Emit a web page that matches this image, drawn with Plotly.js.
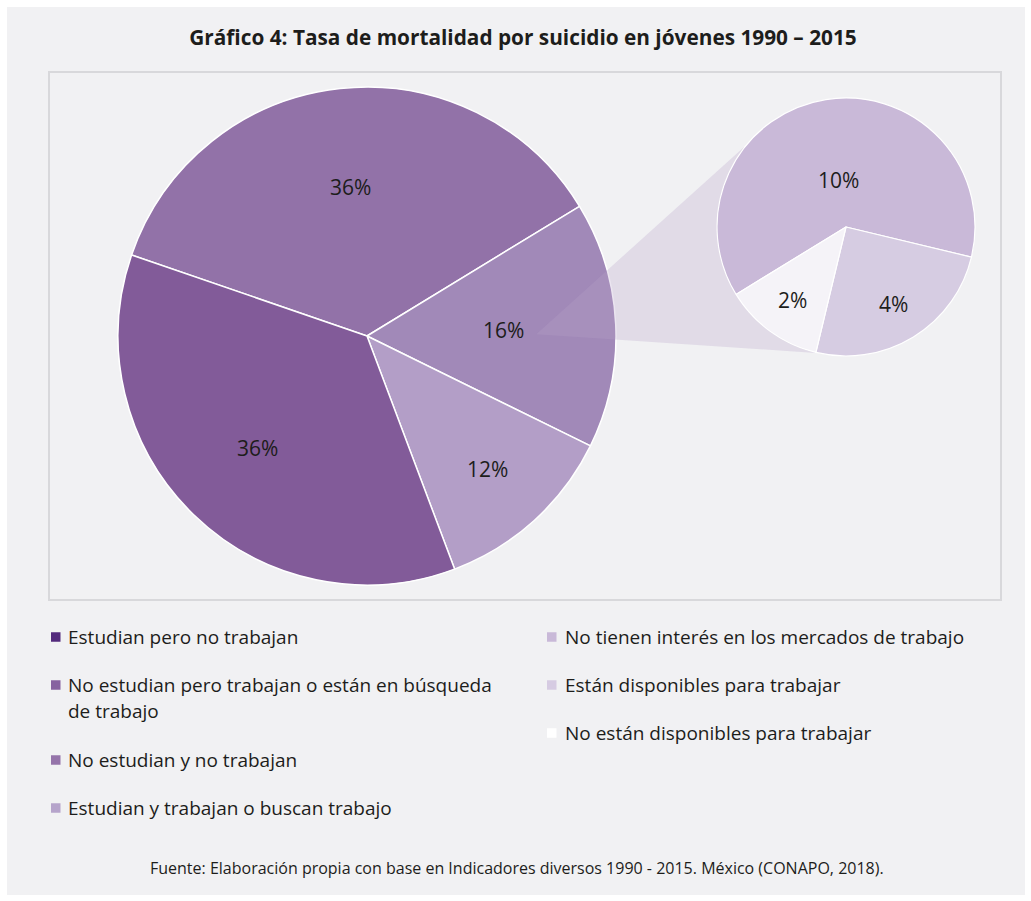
<!DOCTYPE html>
<html>
<head>
<meta charset="utf-8">
<script src="https://cdn.plot.ly/plotly-3.0.1.min.js"></script>
<style>html,body{margin:0;padding:0;background:#ffffff;}</style>
</head>
<body>
<div id="chart" style="width:1031px;height:901px;"></div>
<script>
// ---------- data ----------
const titleText = 'Gráfico 4: Tasa de mortalidad por suicidio en jóvenes 1990 – 2015';
const sourceText = 'Fuente: Elaboración propia con base en Indicadores diversos 1990 - 2015. México (CONAPO, 2018).';

const mainLabels = ['Estudian pero no trabajan', 'No estudian y no trabajan', 'Estudian y trabajan o buscan trabajo', 'No estudian pero trabajan o están en búsqueda de trabajo'];
const mainValues = [36, 16, 12, 36];
const mainColors = ['#9272a8', '#a189b8', '#b39ec7', '#825b99'];

const subLabels = ['No tienen interés en los mercados de trabajo', 'Están disponibles para trabajar', 'No están disponibles para trabajar'];
const subValues = [10, 4, 2];
const subColors = ['#c9b9d8', '#d6cce2', '#f5f3f8'];

const legendLeftLabels = ['Estudian pero no trabajan', 'No estudian pero trabajan o están en búsqueda<br>de trabajo', 'No estudian y no trabajan', 'Estudian y trabajan o buscan trabajo'];
const legendLeftColors = ['#532a7c', '#8763a0', '#9574aa', '#b6a4cb'];
const legendRightLabels = ['No tienen interés en los mercados de trabajo', 'Están disponibles para trabajar', 'No están disponibles para trabajar'];
const legendRightColors = ['#c9b9d8', '#d6cbe2', '#ffffff'];

// ---------- layout helpers (pixel -> paper) ----------
const W = 1031, H = 901;
const X = p => p / W;
const Y = p => 1 - p / H;
const FONT = 'Open Sans, Noto Sans, sans-serif';
const TXT = '#1d1d1b';

// geometry (pixels) and label radial placement (fraction of radius)
const main = {cx: 367, cy: 336, r: 249, rot: -71, labelR: [0.6, 0.55, 0.72, 0.63]};
const sub = {cx: 846, cy: 227, r: 129, rot: 238.5, labelR: [0.37, 0.7, 0.7]};
const expandedIndex = 1;

function pieTrace(labels, values, colors, g, lineW) {
  return {
    type: 'pie', labels: labels, values: values, sort: false,
    direction: 'clockwise', rotation: g.rot,
    marker: {colors: colors, line: {color: '#ffffff', width: lineW}},
    textinfo: 'none',
    domain: {x: [X(g.cx - g.r), X(g.cx + g.r)], y: [Y(g.cy + g.r), Y(g.cy - g.r)]},
    showlegend: false, hovertemplate: '%{label}: %{value}%<extra></extra>'
  };
}
const traces = [
  pieTrace(mainLabels, mainValues, mainColors, main, 1.5),
  pieTrace(subLabels, subValues, subColors, sub, 1.2)
];

// mid angle (deg, clockwise from 12 o'clock) of each slice, same convention as plotly
function midAngles(values, rot) {
  const tot = values.reduce((a, b) => a + b, 0);
  let cum = 0;
  return values.map(v => { const m = rot + (cum + v / 2) / tot * 360; cum += v; return m; });
}
const annotations = [
  {xref: 'paper', yref: 'paper', x: X(517), y: Y(868), text: sourceText, showarrow: false, xanchor: 'center', yanchor: 'middle', font: {family: FONT, size: 16, color: TXT}}
];
function addSliceLabels(values, g) {
  midAngles(values, g.rot).forEach((m, i) => {
    const t = m * Math.PI / 180;
    const px = g.cx + g.labelR[i] * g.r * Math.sin(t);
    const py = g.cy - g.labelR[i] * g.r * Math.cos(t);
    annotations.push({xref: 'paper', yref: 'paper', x: X(px), y: Y(py), text: values[i] + '%', showarrow: false, xanchor: 'center', yanchor: 'middle', font: {family: FONT, size: 21, color: TXT}});
  });
}
addSliceLabels(mainValues, main);
addSliceLabels(subValues, sub);

// connector between the expanded slice and the secondary pie
const mid = (midAngles(mainValues, main.rot)[expandedIndex] + 2) * Math.PI / 180;
const ax = main.cx + 0.68 * main.r * Math.sin(mid);
const ay = main.cy - 0.68 * main.r * Math.cos(mid);
const a0 = 141.5, a1 = 257;
let path = 'M ' + X(ax) + ',' + Y(ay);
for (let a = a0; a <= a1 + 0.001; a += 2.5) {
  const t = a * Math.PI / 180;
  const px = sub.cx + (sub.r + 0.5) * Math.cos(t);
  const py = sub.cy - (sub.r + 0.5) * Math.sin(t);
  path += ' L ' + X(px) + ',' + Y(py);
}
path += ' Z';

const shapes = [
  {type: 'rect', xref: 'paper', yref: 'paper', x0: X(7), x1: X(1025), y0: Y(895), y1: Y(7), fillcolor: '#f1f1f3', line: {width: 0}, layer: 'below'},
  {type: 'rect', xref: 'paper', yref: 'paper', x0: X(49), x1: X(1001), y0: Y(600), y1: Y(72), fillcolor: 'rgba(0,0,0,0)', line: {color: '#d8d8db', width: 2}, layer: 'below'},
  {type: 'path', xref: 'paper', yref: 'paper', path: path, fillcolor: 'rgba(182,160,201,0.28)', line: {width: 0}, layer: 'above'}
];

function addLegend(labels, colors, xSq, xTxt, ys) {
  labels.forEach((lab, i) => {
    const y0 = ys[i];
    shapes.push({type: 'rect', xref: 'paper', yref: 'paper', x0: X(xSq), x1: X(xSq + 9.5), y0: Y(y0 + 4.75), y1: Y(y0 - 4.75), fillcolor: colors[i], line: {width: 0}, layer: 'above'});
    lab.split('<br>').forEach((line, k) => {
      annotations.push({xref: 'paper', yref: 'paper', x: X(xTxt), y: Y(y0 + k * 26), text: line, showarrow: false, xanchor: 'left', yanchor: 'middle', font: {family: FONT, size: 19, color: TXT}});
    });
  });
}
addLegend(legendLeftLabels, legendLeftColors, 51, 66, [637, 685, 760, 808]);
addLegend(legendRightLabels, legendRightColors, 547, 563, [637, 685, 733]);

const layout = {
  width: W, height: H,
  margin: {l: 0, r: 0, t: 0, b: 0},
  paper_bgcolor: '#ffffff',
  title: {text: titleText, x: X(523), xanchor: 'center', y: Y(38), yanchor: 'middle', font: {family: FONT, size: 20.8, color: TXT, weight: 700}},
  shapes: shapes,
  annotations: annotations
};

Plotly.newPlot('chart', traces, layout, {displayModeBar: false});
</script>
</body>
</html>
